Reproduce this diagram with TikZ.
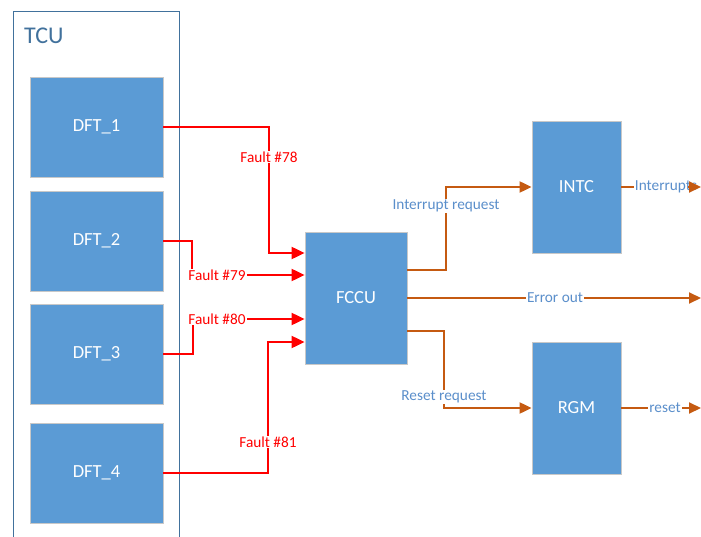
\documentclass[tikz,border=0pt]{standalone}
\usepackage{fontspec}
\setmainfont{Carlito}
\usetikzlibrary{arrows.meta}
\definecolor{boxfill}{HTML}{5B9BD5}
\definecolor{boxline}{HTML}{C8C8C8}
\definecolor{tcuc}{HTML}{41719C}
\definecolor{faultred}{HTML}{FF0000}
\definecolor{sigor}{HTML}{C55A11}
\definecolor{lblblue}{HTML}{5B8FCB}
\tikzset{
  block/.style={draw=boxline, line width=0.8pt, fill=boxfill, text=white, font=\fontsize{18.5}{20}\selectfont, inner sep=0pt},
  dftbox/.style={block, minimum width=133pt, minimum height=100pt},
  unitbox/.style={block, minimum width=89pt, minimum height=132pt},
  faultline/.style={draw=faultred, line width=2pt},
  faultarrow/.style={faultline, -{Triangle[length=13pt,width=12pt]}},
  faultlbl/.style={fill=white, text=faultred, font=\fontsize{15.3}{16}\selectfont, inner sep=1pt},
  sigline/.style={draw=sigor, line width=2pt},
  sigarrow/.style={sigline, -{Triangle[length=12pt,width=11pt]}},
  siglbl/.style={fill=white, text=lblblue, font=\fontsize{15.3}{16}\selectfont, inner sep=1pt},
}
\begin{document}
\begin{tikzpicture}[x=1pt,y=-1pt]
\useasboundingbox (0,0) rectangle (701,537);
\clip (0,0) rectangle (701,537);
% TCU container
\node[draw=tcuc, line width=1pt, minimum width=166pt, minimum height=540pt, anchor=north west, inner sep=0pt] (tcu) at (13,11) {};
\node[text=tcuc, font=\fontsize{24}{26}\selectfont, anchor=west, inner sep=0pt] (tcul) at (24,36) {TCU};
% blocks
\node[dftbox] (dft1) at (96.5,127) {DFT\_1};
\node[dftbox] (dft2) at (96.5,241) {DFT\_2};
\node[dftbox] (dft3) at (96.5,354) {DFT\_3};
\node[dftbox] (dft4) at (96.5,473) {DFT\_4};
\node[block, minimum width=102pt, minimum height=132pt] (fccu) at (356,298) {FCCU};
\node[unitbox] (intc) at (576.5,187) {INTC};
\node[unitbox] (rgm) at (576.5,408) {RGM};
% coordinates
\coordinate (a1) at (269,127); \coordinate (a2) at (269,253);
\coordinate (b1) at (192,241); \coordinate (b2) at (192,275);
\coordinate (c1) at (193,354); \coordinate (c2) at (193,319);
\coordinate (d1) at (268,473); \coordinate (d2) at (268,342);
% fault lines
\draw[faultarrow] (dft1.east |- a1) -- (a1) -- (a2) -- (fccu.west |- a2);
\draw[faultarrow] (dft2.east |- b1) -- (b1) -- (b2) -- (fccu.west |- b2);
\draw[faultarrow] (dft3.east |- c1) -- (c1) -- (c2) -- (fccu.west |- c2);
\draw[faultarrow] (dft4.east |- d1) -- (d1) -- (d2) -- (fccu.west |- d2);
\node[faultlbl] (l78) at (269,157) {Fault \#78};
\node[faultlbl] (l79) at (217,275) {Fault \#79};
\node[faultlbl] (l80) at (217,319) {Fault \#80};
\node[faultlbl] (l81) at (268,442) {Fault \#81};
% signal lines
\coordinate (i0) at (407,270); \coordinate (i1) at (446,270); \coordinate (i2) at (446,187);
\coordinate (e0) at (407,298); \coordinate (e1) at (688,298); \coordinate (e2) at (701,298);
\coordinate (r0) at (407,331); \coordinate (r1) at (444,331); \coordinate (r2) at (444,408);
\coordinate (n1) at (688,187); \coordinate (n2) at (701,187);
\coordinate (s1) at (688,408); \coordinate (s2) at (701,408);
\draw[sigarrow] (fccu.east |- i0) -- (i1) -- (i2) -- (intc.west |- i2);
\draw[sigline] (fccu.east |- e0) -- (e1);
\draw[sigarrow] (fccu.east |- r0) -- (r1) -- (r2) -- (rgm.west |- r2);
\draw[sigline] (intc.east) -- (n1);
\draw[sigline] (rgm.east) -- (s1);
\node[siglbl] (lir) at (446,206) {Interrupt request};
\node[siglbl] (leo) at (555,298) {Error out};
\node[siglbl] (lrr) at (444,397) {Reset request};
\node[siglbl] (lint) at (666,187) {Interrupts};
\node[siglbl] (lrst) at (665,408) {reset};
\draw[sigarrow] (e1) -- (e2);
\draw[sigarrow] (n1) -- (n2);
\draw[sigarrow] (s1) -- (s2);
\end{tikzpicture}
\end{document}
